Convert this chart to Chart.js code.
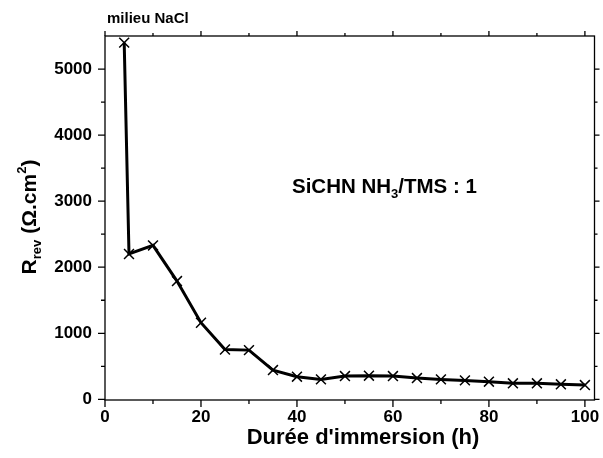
<!DOCTYPE html>
<html lang="fr">
<head>
    <meta charset="UTF-8">
    <title>Rrev en fonction de la durée d'immersion</title>
    <script src="https://cdn.jsdelivr.net/npm/chart.js"></script>
    <style>
        body { margin: 0; padding: 0; background: #fff; }
        #wrap { width: 603px; height: 458px; position: relative; }
    </style>
</head>
<body>
    <div id="wrap"><canvas id="rrevChart"></canvas></div>

    <script>
        // données
        const dureeHeures = [4, 5, 10, 15, 20, 25, 30, 35, 40, 45, 50, 55, 60, 65, 70, 75, 80, 85, 90, 95, 100];
        const rrevValues = [5400, 2200, 2330, 1790, 1160, 755, 745, 443, 343, 302, 352, 358, 352, 322, 302, 287, 267, 242, 242, 227, 216];
        const xTickLabels = [0, 20, 40, 60, 80, 100];
        const xMinorTicks = [10, 30, 50, 70, 90];
        const yTickLabels = [0, 1000, 2000, 3000, 4000, 5000];
        const yMinorTicks = [500, 1500, 2500, 3500, 4500];

        const FONT = "'Liberation Sans', Arial, sans-serif";

        const points = dureeHeures.map((h, i) => ({ x: h, y: rrevValues[i] }));

        // axes, graduations et textes dessinés à la main
        const axesPlugin = {
            id: 'axesPlugin',
            afterDraw(chart) {
                const ctx = chart.ctx;
                const a = chart.chartArea;
                const xs = chart.scales.x;
                const ys = chart.scales.y;
                ctx.save();
                ctx.strokeStyle = '#000';
                ctx.fillStyle = '#000';
                ctx.lineWidth = 1.3;
                ctx.strokeRect(a.left, a.top, a.right - a.left, a.bottom - a.top);

                ctx.beginPath();
                xTickLabels.forEach(v => {
                    const px = xs.getPixelForValue(v);
                    ctx.moveTo(px, a.bottom); ctx.lineTo(px, a.bottom + 7);
                    ctx.moveTo(px, a.top); ctx.lineTo(px, a.top - 5);
                });
                xMinorTicks.forEach(v => {
                    const px = xs.getPixelForValue(v);
                    ctx.moveTo(px, a.bottom); ctx.lineTo(px, a.bottom + 4);
                    ctx.moveTo(px, a.top); ctx.lineTo(px, a.top - 3);
                });
                yTickLabels.forEach(v => {
                    const py = ys.getPixelForValue(v);
                    ctx.moveTo(a.left, py); ctx.lineTo(a.left - 7, py);
                    ctx.moveTo(a.right, py); ctx.lineTo(a.right + 5, py);
                });
                yMinorTicks.forEach(v => {
                    const py = ys.getPixelForValue(v);
                    ctx.moveTo(a.left, py); ctx.lineTo(a.left - 4, py);
                    ctx.moveTo(a.right, py); ctx.lineTo(a.right + 3, py);
                });
                ctx.stroke();

                ctx.font = 'bold 17px ' + FONT;
                ctx.textAlign = 'center';
                ctx.textBaseline = 'top';
                xTickLabels.forEach(v => {
                    ctx.fillText(String(v), xs.getPixelForValue(v), a.bottom + 9);
                });
                ctx.textAlign = 'right';
                ctx.textBaseline = 'middle';
                yTickLabels.forEach(v => {
                    ctx.fillText(String(v), a.left - 13, ys.getPixelForValue(v));
                });

                // titre axe x
                ctx.font = 'bold 22px ' + FONT;
                ctx.textAlign = 'center';
                ctx.textBaseline = 'middle';
                ctx.fillText("Durée d'immersion (h)", 363, 438);

                // titre axe y : R_rev (Ω.cm²)
                ctx.save();
                ctx.translate(27, 217);
                ctx.rotate(-Math.PI / 2);
                ctx.textAlign = 'left';
                ctx.textBaseline = 'alphabetic';
                const big = 'bold 21px ' + FONT;
                const small = 'bold 13px ' + FONT;
                ctx.font = big;
                let w = ctx.measureText('R').width;
                ctx.font = small;
                w += ctx.measureText('rev').width;
                ctx.font = big;
                w += ctx.measureText(' (Ω.cm').width + ctx.measureText(')').width;
                ctx.font = small;
                w += ctx.measureText('2').width;
                let cx = -w / 2;
                ctx.font = big;
                ctx.fillText('R', cx, 9); cx += ctx.measureText('R').width;
                ctx.font = small;
                ctx.fillText('rev', cx, 14); cx += ctx.measureText('rev').width;
                ctx.font = big;
                ctx.fillText(' (Ω.cm', cx, 9); cx += ctx.measureText(' (Ω.cm').width;
                ctx.font = small;
                ctx.fillText('2', cx, -1); cx += ctx.measureText('2').width;
                ctx.font = big;
                ctx.fillText(')', cx, 9);
                ctx.restore();

                // milieu
                ctx.font = 'bold 15px ' + FONT;
                ctx.textAlign = 'left';
                ctx.textBaseline = 'middle';
                ctx.fillText('milieu NaCl', 107, 19);

                // annotation SiCHN NH3/TMS : 1
                ctx.textBaseline = 'alphabetic';
                let ax = 292;
                const ay = 193;
                ctx.font = 'bold 20.5px ' + FONT;
                ctx.fillText('SiCHN NH', ax, ay); ax += ctx.measureText('SiCHN NH').width;
                ctx.font = 'bold 13px ' + FONT;
                ctx.fillText('3', ax, ay + 5); ax += ctx.measureText('3').width;
                ctx.font = 'bold 20.5px ' + FONT;
                ctx.fillText('/TMS : 1', ax, ay);
                ctx.restore();
            }
        };

        new Chart(document.getElementById('rrevChart'), {
            type: 'scatter',
            data: {
                datasets: [{
                    label: 'Rrev',
                    data: points,
                    showLine: true,
                    borderColor: '#000',
                    borderWidth: 3,
                    pointStyle: 'crossRot',
                    pointRadius: 7,
                    pointBorderWidth: 1.5,
                    pointBorderColor: '#000',
                    tension: 0
                }]
            },
            options: {
                responsive: true,
                maintainAspectRatio: false,
                animation: false,
                layout: { padding: { left: 105, right: 6, top: 36, bottom: 58 } },
                plugins: { legend: { display: false }, tooltip: { enabled: false } },
                scales: {
                    x: { type: 'linear', min: 0, max: 102, display: false },
                    y: { type: 'linear', min: -10, max: 5500, display: false }
                }
            },
            plugins: [axesPlugin]
        });
    </script>
</body>
</html>
